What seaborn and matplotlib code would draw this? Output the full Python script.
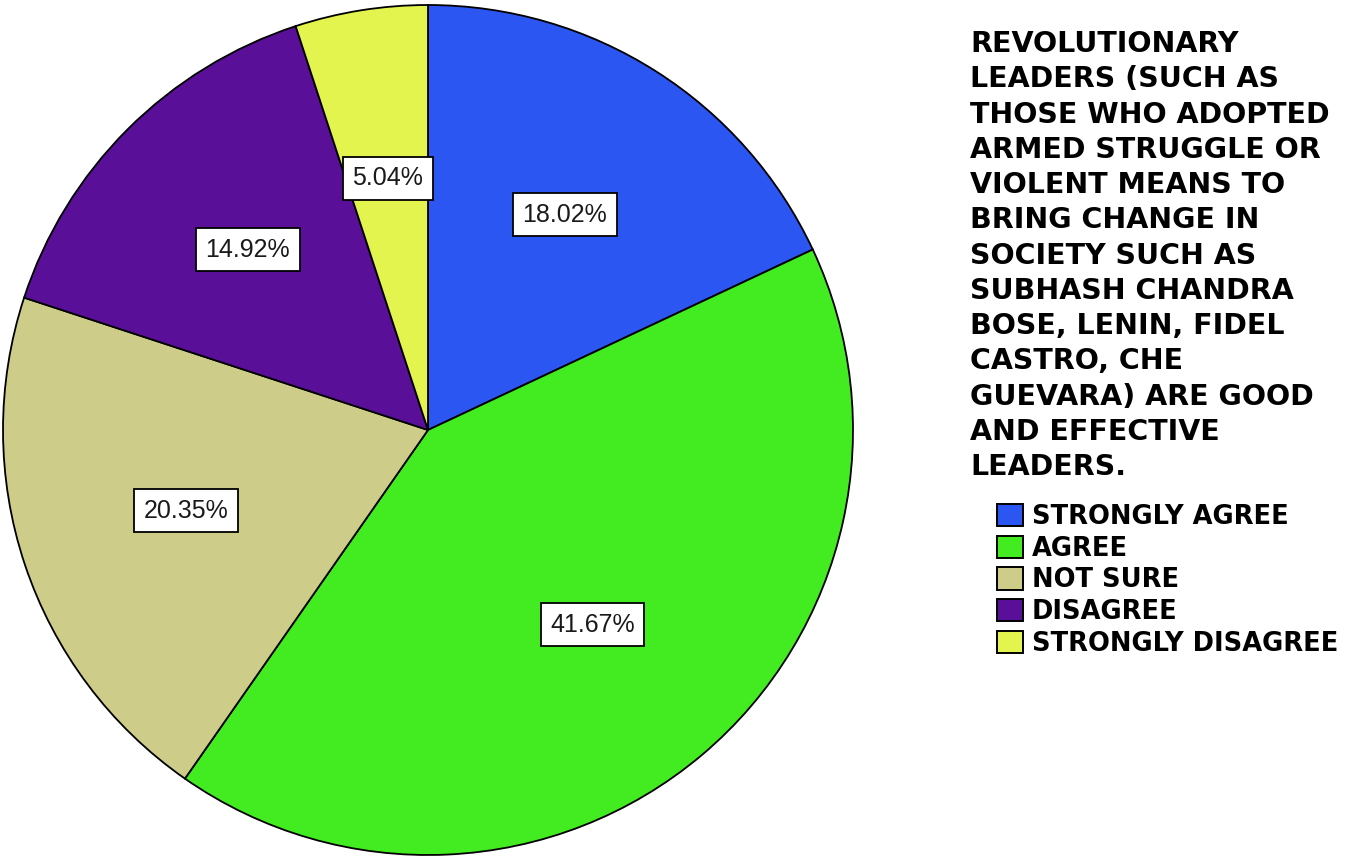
import matplotlib
matplotlib.use("Agg")
import matplotlib.pyplot as plt
import seaborn as sns

# === data ===
categories = ["Strongly Agree", "Agree", "Not Sure", "Disagree", "Strongly Disagree"]
percentages = [18.02, 41.67, 20.35, 14.92, 5.04]
slice_colors = ["#2c56f2", "#42ec20", "#cdcc88", "#5a0f99", "#e4f44e"]
title_lines = [
    "Revolutionary",
    "leaders (such as",
    "those who adopted",
    "armed struggle or",
    "violent means to",
    "bring change in",
    "society such as",
    "Subhash Chandra",
    "Bose, Lenin, Fidel",
    "Castro, Che",
    "Guevara) are good",
    "and effective",
    "leaders.",
]

sns.set_theme(style="white")
plt.rcParams["font.family"] = ["DejaVu Sans"]

W, H = 1358, 858
fig = plt.figure(figsize=(W / 100, H / 100), dpi=100)
fig.patch.set_facecolor("white")

# pie axes: centre ~ (428, 430) px, radius ~ 425 px
cx, cy, r = 428, 430, 425
ax = fig.add_axes([(cx - r) / W, (H - cy - r) / H, 2 * r / W, 2 * r / H])

wedges, texts, autotexts = ax.pie(
    percentages,
    colors=slice_colors,
    startangle=90,
    counterclock=False,
    autopct=lambda p: f"{p:.2f}%",
    pctdistance=0.6,
    wedgeprops=dict(edgecolor="black", linewidth=1.3),
    textprops=dict(fontsize=18, color="#1a1a1a", family=["Liberation Sans", "DejaVu Sans"]),
)
for t in autotexts:
    t.set_bbox(dict(boxstyle="square,pad=0.38", facecolor="white", edgecolor="black", linewidth=1.3))
ax.set_xlim(-1.0, 1.0)
ax.set_ylim(-1.0, 1.0)
ax.set_aspect("equal")
ax.axis("off")

# === legend title ===
fig.text(
    970 / W, 1 - 30 / H,
    "\n".join(line.upper() for line in title_lines),
    ha="left", va="top", fontsize=20.5, fontweight="bold",
    linespacing=1.33, color="black",
)

# === legend entries ===
handles = [
    matplotlib.patches.Patch(facecolor=c, edgecolor="black", linewidth=1.4)
    for c in slice_colors
]
fig.legend(
    handles, [c.upper() for c in categories],
    loc="upper left", bbox_to_anchor=(997 / W, 1 - 504 / H),
    frameon=False,
    prop=dict(weight="bold", size=18.5),
    labelcolor="black",
    handlelength=1.0, handleheight=0.95, handletextpad=0.35,
    labelspacing=0.22, borderaxespad=0, borderpad=0,
)

fig.savefig("out.png", dpi=100)
